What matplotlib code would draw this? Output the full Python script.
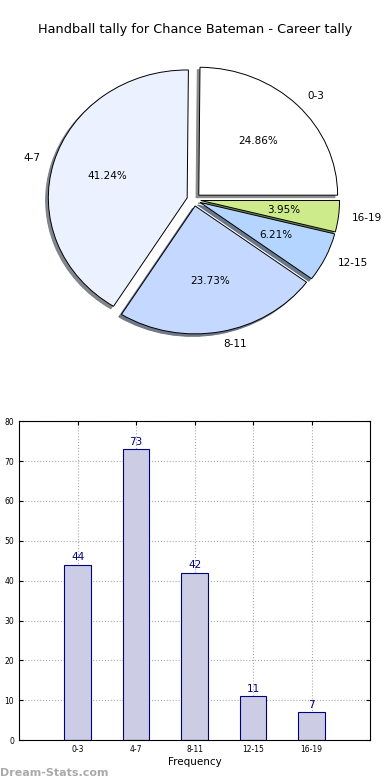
import numpy as np
import matplotlib
matplotlib.use('Agg')
import matplotlib.pyplot as plt

# career tally per bucket
labels = ['0-3', '4-7', '8-11', '12-15', '16-19']
counts = [44, 73, 42, 11, 7]
pie_colors = ['#ffffff', '#ebf1ff', '#c5d8ff', '#b3d5ff', '#cdeb8b']

fig = plt.figure(figsize=(3.9, 7.8), dpi=100)

# pie on top (stretched, not round)
ax1 = fig.add_axes([0.052, 0.539, 0.89, 0.41])
wedges, texts, autotexts = ax1.pie(counts, labels=labels, colors=pie_colors,
                                   explode=[0.05] * len(counts),
                                   shadow={'ox': -0.014, 'oy': -0.014, 'shade': 0.5, 'alpha': 0.9},
                                   autopct='%1.2f%%', startangle=0, pctdistance=0.6,
                                   labeldistance=1.1,
                                   wedgeprops=dict(edgecolor='black', linewidth=0.7),
                                   textprops=dict(fontsize=7.5))
ax1.set_aspect('auto')
ax1.set_xlim(-1.25, 1.25)
ax1.set_ylim(-1.25, 1.25)
fig.text(0.5, 0.962, 'Handball tally for Chance Bateman - Career tally',
         fontsize=9.3, ha='center', va='center')

# bars below
ax2 = fig.add_axes([0.049, 0.051, 0.9, 0.409])
x = np.arange(len(labels))
ax2.bar(x, counts, width=0.45, color='#ccccE5', edgecolor='#000080', linewidth=0.8, zorder=2)
for xi, c in zip(x, counts):
    ax2.text(xi, c + 0.6, str(c), ha='center', va='bottom', fontsize=7.5, color='#000080')
ax2.set_xlim(-1, 5)
ax2.set_ylim(0, 80)
ax2.set_xticks(x)
ax2.set_xticklabels(labels)
ax2.set_yticks(range(0, 81, 10))
ax2.tick_params(labelsize=5.5, direction='in', top=True, right=True, length=3)
ax2.grid(True, linestyle=':', color='#aaaaaa', linewidth=0.8, zorder=0)
ax2.set_axisbelow(True)
ax2.set_xlabel('Frequency', fontsize=7.5, labelpad=2)

fig.text(0.0, 0.005, 'Dream-Stats.com', fontsize=8, color='#aaaaaa', fontweight='bold')

fig.savefig('out.png', dpi=100)
